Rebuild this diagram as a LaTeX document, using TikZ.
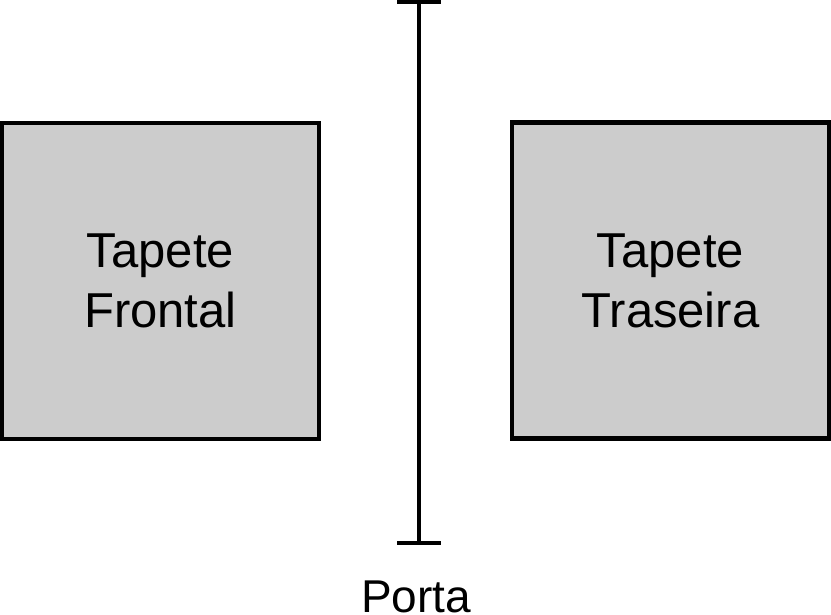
\documentclass[tikz,border=0pt]{standalone}
\usepackage{fontspec}
\setmainfont{Liberation Sans}
\usepackage{tikz}
\usetikzlibrary{positioning,calc}

\tikzset{
    matbox/.style={draw, line width=4.5pt, fill=black!20, minimum width=317pt, minimum height=316pt, align=center, font=\fontsize{49}{60}\selectfont, inner sep=0pt},
    doorline/.style={line width=4pt}
}

\begin{document}
\begin{tikzpicture}[x=1pt,y=-1pt]
    \useasboundingbox (0,0) rectangle (831,614);

    % Mats
    \node[matbox] (front) at (160.5,281) {Tapete\\Frontal};
    \node[matbox] (rear) at (670.5,280.5) {Tapete\\Traseira};

    % Door
    \coordinate (dtop) at (419,2);
    \coordinate (dbot) at (419,543);
    \draw[doorline] (dtop) -- (dbot);
    \draw[doorline] ($(dtop)+(-22,0)$) -- ($(dtop)+(22,0)$);
    \draw[doorline] ($(dbot)+(-22,0)$) -- ($(dbot)+(22,0)$);
    \node[anchor=base, font=\fontsize{46}{55}\selectfont, inner sep=0pt] (porta) at (416,612) {Porta};
\end{tikzpicture}
\end{document}
